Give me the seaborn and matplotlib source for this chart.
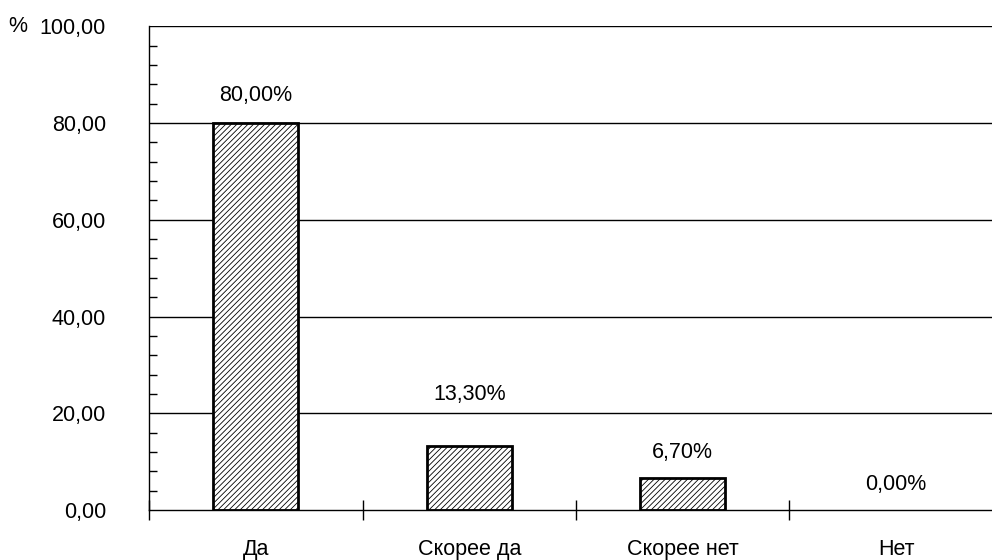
import matplotlib
matplotlib.use("Agg")
import matplotlib.pyplot as plt
import seaborn as sns
import pandas as pd
from matplotlib.ticker import MultipleLocator, FixedLocator, FuncFormatter

# Survey answers and their shares, %
categories = ["Да", "Скорее да", "Скорее нет", "Нет"]
shares = [80.00, 13.30, 6.70, 0.00]
value_labels = ["80,00%", "13,30%", "6,70%", "0,00%"]
y_ticks = [0, 20, 40, 60, 80, 100]

sns.set_theme(style="white")
plt.rcParams["font.family"] = ["Liberation Sans", "DejaVu Sans"]
plt.rcParams["hatch.linewidth"] = 0.6
plt.rcParams["hatch.color"] = "#4a4a4a"
FS = 15.5

df = pd.DataFrame({"answer": categories, "share": shares})

fig = plt.figure(figsize=(9.92, 5.6), dpi=100)
ax = fig.add_axes([149 / 992, 50 / 560, 854 / 992, 483.7 / 560])

sns.barplot(data=df, x="answer", y="share", color="white", edgecolor="black",
            linewidth=2, width=0.4, saturation=1, ax=ax)
for patch, v in zip(ax.patches, shares):
    if v > 0:
        patch.set_hatch("//////")
    else:
        patch.set_visible(False)

ax.set_xlim(-0.5, 3.5)
ax.set_ylim(0, 100)

# horizontal gridlines at the major values
for y in y_ticks[1:]:
    ax.axhline(y, color="black", linewidth=1, zorder=0.5)

# value labels above the bars
label_offsets = [3.5, 8.5, 3.0, 3.0]
for i, (v, txt, off) in enumerate(zip(shares, value_labels, label_offsets)):
    ax.text(i, v + off, txt, ha="center", va="bottom", fontsize=FS, color="black")

# y axis: major ticks crossing the axis, minor ticks inside
ax.yaxis.set_major_locator(FixedLocator(y_ticks))
ax.yaxis.set_minor_locator(MultipleLocator(4))
ax.yaxis.set_major_formatter(FuncFormatter(lambda v, p: f"{v:.2f}".replace(".", ",")))
ax.tick_params(axis="y", which="major", direction="inout", length=16, width=1,
               colors="black", labelsize=FS, pad=23)
ax.tick_params(axis="y", which="minor", direction="in", length=6, width=1,
               colors="black", left=True)

# x axis: labels at category centres, tick marks at category boundaries
ax.set_xticks(range(len(categories)))
ax.set_xticklabels(categories)
ax.set_xticks([-0.5, 0.5, 1.5, 2.5, 3.5], minor=True)
ax.tick_params(axis="x", which="major", length=0, labelsize=FS, pad=21,
               labelcolor="black")
ax.tick_params(axis="x", which="minor", direction="inout", length=14, width=1,
               colors="black", bottom=True)

for side in ["top", "right"]:
    ax.spines[side].set_visible(False)
for side in ["left", "bottom"]:
    ax.spines[side].set_color("black")
    ax.spines[side].set_linewidth(1)

ax.set_xlabel("")
ax.set_ylabel("")
fig.text(18 / 992, 1 - 27 / 560, "%", ha="center", va="center", fontsize=FS,
         color="black")

fig.savefig("out.png", dpi=100)
